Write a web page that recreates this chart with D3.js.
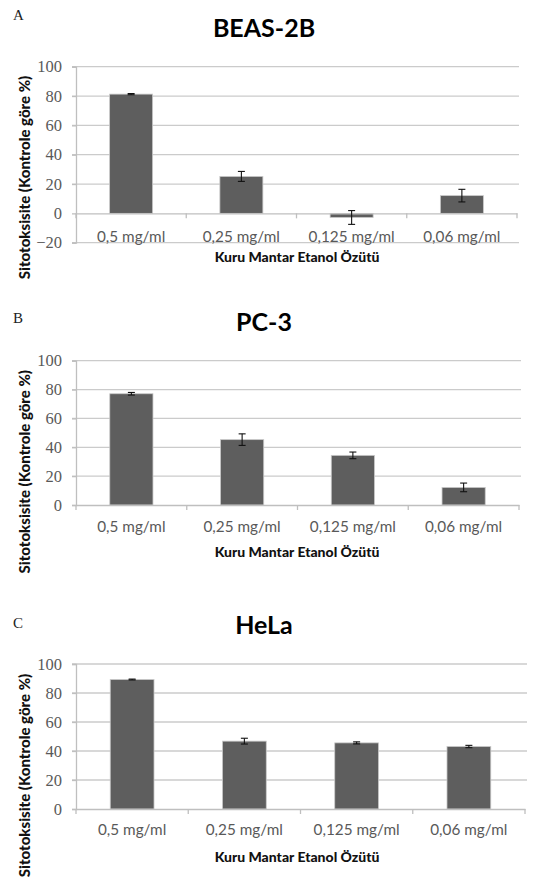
<!DOCTYPE html>
<html>
<head>
<meta charset="utf-8">
<script src="https://cdn.jsdelivr.net/npm/d3@7"></script>
<style>
  body { margin: 0; background: #fff; }
  svg { display: block; }
  .grid line { stroke: #cbcbcb; stroke-width: 1.3; }
  .cat { font-family: Lato, sans-serif; font-size: 15.3px; fill: #595959; }
  .xtitle { font-family: Lato, sans-serif; font-size: 14px; font-weight: 900; fill: #111; }
  .ytitle { font-family: Lato, sans-serif; font-size: 15px; font-weight: 900; fill: #111; }
  .title { font-family: Lato, sans-serif; font-size: 25px; font-weight: bold; fill: #000; }
  .letter { font-family: "Liberation Serif", serif; font-size: 15px; fill: #222; }
</style>
</head>
<body>
<div id="chart"></div>
<script>
// data
const categories = ["0,5 mg/ml", "0,25 mg/ml", "0,125 mg/ml", "0,06 mg/ml"];
const beasValues = [81.3, 25.2, -2.8, 12.1];
const beasErrors = [0.4, 3.4, 4.7, 4.3];
const pc3Values = [77.1, 45.3, 34.4, 12.2];
const pc3Errors = [0.9, 4.0, 2.3, 3.0];
const helaValues = [89.3, 46.8, 45.6, 43.1];
const helaErrors = [0.3, 2.0, 0.7, 0.8];
const yTicksA = [-20, 0, 20, 40, 60, 80, 100];
const yTicksBC = [0, 20, 40, 60, 80, 100];
const xTitle = "Kuru Mantar Etanol Özütü";
const yTitle = "Sitotoksisite (Kontrole göre %)";

const svg = d3.select("#chart")
              .append("svg")
              .attr("width", 549)
              .attr("height", 881);

const panels = [
  {letter: "A", title: "BEAS-2B", values: beasValues, errors: beasErrors, ticks: yTicksA,
   x0: 76, x1: 517, yTop: 66.7, yBot: 242.7, letterY: 20, titleY: 36.5,
   catY: 241.5, xtY: 262, ytY: 177.5},
  {letter: "B", title: "PC-3", values: pc3Values, errors: pc3Errors, ticks: yTicksBC,
   x0: 76, x1: 519, yTop: 360.7, yBot: 505, letterY: 323, titleY: 330.5,
   catY: 531.5, xtY: 556.5, ytY: 471.7},
  {letter: "C", title: "HeLa", values: helaValues, errors: helaErrors, ticks: yTicksBC,
   x0: 76, x1: 525, yTop: 664, yBot: 809, letterY: 628, titleY: 634,
   catY: 835, xtY: 861.5, ytY: 775.5}
];

panels.forEach(drawPanel);

function drawPanel(p) {
    const g = svg.append("g");
    const xScale = d3.scaleBand()
                     .domain(categories)
                     .range([p.x0, p.x1])
                     .paddingInner(0.61)
                     .paddingOuter(0.305);
    const yScale = d3.scaleLinear()
                     .domain(d3.extent(p.ticks))
                     .range([p.yBot, p.yTop]);
    const outer = d3.scaleBand().domain(categories).range([p.x0, p.x1]);

    // gridlines
    g.append("g")
     .attr("class", "grid")
     .selectAll("line")
     .data(p.ticks.filter(t => t !== 0))
     .enter()
     .append("line")
     .attr("x1", p.x0 - 4)
     .attr("x2", p.x1 + 2)
     .attr("y1", d => yScale(d))
     .attr("y2", d => yScale(d));

    // y axis
    const yAxis = d3.axisLeft(yScale).tickValues(p.ticks).tickSize(4).tickPadding(10);
    const ya = g.append("g")
                .attr("transform", `translate(${p.x0},0)`)
                .call(yAxis)
                .attr("font-family", "Liberation Serif, serif")
                .attr("font-size", 16.5);
    ya.select(".domain").attr("stroke", "#bfbfbf").attr("stroke-width", 1.3);
    ya.selectAll(".tick line").attr("stroke", "#bfbfbf").attr("stroke-width", 1.3);
    ya.selectAll(".tick text").attr("fill", "#595959");

    // bars
    g.selectAll("rect.bar")
     .data(p.values)
     .enter()
     .append("rect")
     .attr("class", "bar")
     .attr("x", (d, i) => xScale(categories[i]))
     .attr("width", xScale.bandwidth())
     .attr("y", d => yScale(Math.max(0, d)))
     .attr("height", d => Math.abs(yScale(d) - yScale(0)))
     .attr("fill", "#5e5e5e")
     .attr("stroke", "#c9c9c9")
     .attr("stroke-width", 0.8);

    // category axis at zero
    const xAxis = d3.axisBottom(outer).tickSize(0).tickFormat("");
    const xa = g.append("g")
                .attr("transform", `translate(0,${yScale(0)})`)
                .call(xAxis);
    xa.select(".domain").attr("stroke", "#bfbfbf").attr("stroke-width", 1.3);
    xa.selectAll(".tick").remove();
    xa.selectAll("line.sep")
      .data(categories.map((c, i) => i).concat([categories.length]))
      .enter()
      .append("line")
      .attr("class", "sep")
      .attr("x1", i => p.x0 + i * outer.bandwidth())
      .attr("x2", i => p.x0 + i * outer.bandwidth())
      .attr("y1", 0)
      .attr("y2", 5)
      .attr("stroke", "#bfbfbf")
      .attr("stroke-width", 1.3);

    // error bars
    const err = g.selectAll("g.err")
                 .data(p.values)
                 .enter()
                 .append("g")
                 .attr("class", "err")
                 .attr("stroke", "#111")
                 .attr("stroke-width", 1.1);
    const cx = (d, i) => xScale(categories[i]) + xScale.bandwidth() / 2;
    err.append("line")
       .attr("x1", cx).attr("x2", cx)
       .attr("y1", (d, i) => yScale(d + p.errors[i]))
       .attr("y2", (d, i) => yScale(d - p.errors[i]));
    [1, -1].forEach(s => {
        err.append("line")
           .attr("x1", (d, i) => cx(d, i) - 3.5)
           .attr("x2", (d, i) => cx(d, i) + 3.5)
           .attr("y1", (d, i) => yScale(d + s * p.errors[i]))
           .attr("y2", (d, i) => yScale(d + s * p.errors[i]));
    });

    // category labels
    g.selectAll("text.cat")
     .data(categories)
     .enter()
     .append("text")
     .attr("class", "cat")
     .attr("x", d => outer(d) + outer.bandwidth() / 2)
     .attr("y", p.catY)
     .attr("text-anchor", "middle")
     .text(d => d);

    g.append("text")
     .attr("class", "xtitle")
     .attr("x", 297)
     .attr("y", p.xtY)
     .attr("text-anchor", "middle")
     .text(xTitle);

    g.append("text")
     .attr("class", "ytitle")
     .attr("transform", `translate(30,${p.ytY}) rotate(-90)`)
     .attr("text-anchor", "middle")
     .text(yTitle);

    g.append("text")
     .attr("class", "title")
     .attr("x", 264)
     .attr("y", p.titleY)
     .attr("text-anchor", "middle")
     .text(p.title);

    g.append("text")
     .attr("class", "letter")
     .attr("x", 13)
     .attr("y", p.letterY)
     .text(p.letter);
}
</script>
</body>
</html>
